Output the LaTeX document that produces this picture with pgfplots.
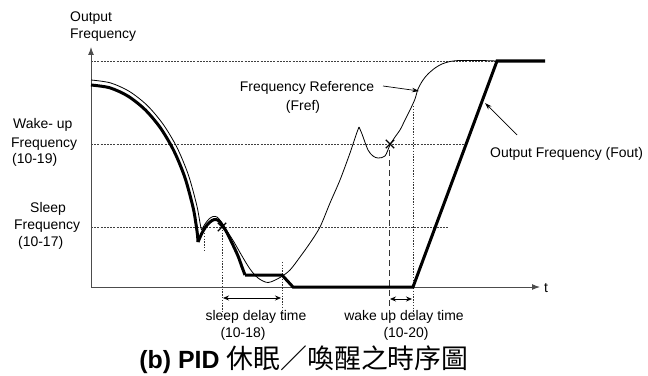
\documentclass[border=0pt]{standalone}
\usepackage{fontspec}
\setmainfont{Liberation Sans}
\newfontfamily\cjk{Noto Sans CJK TC}
\usepackage{pgfplots}
\pgfplotsset{compat=1.18}
\usetikzlibrary{arrows.meta}

\tikzset{
  guide/.style={black!75, line width=0.7bp, dash pattern=on 2bp off 1.2bp},
  dots/.style={black!80, line width=0.7bp, dash pattern=on 1.4bp off 1.4bp},
  lbl/.style={font=\fontsize{14}{16}\selectfont, inner sep=0pt, anchor=base west},
  lblc/.style={font=\fontsize{14}{16}\selectfont, inner sep=0pt, anchor=base},
}

\begin{document}
\begin{tikzpicture}
\begin{axis}[
    width=648bp, height=376bp, scale only axis,
    xmin=0, xmax=648, ymin=0, ymax=376,
    y dir=reverse,
    hide axis, clip=false,
]
\path (axis cs:0,0) rectangle (axis cs:648,376);

% guide levels
\addplot[guide] coordinates {(91,61) (497,61)};
\addplot[guide] coordinates {(91,144) (466,144)};
\addplot[guide] coordinates {(91,227) (448,227)};

% axes
\addplot[black!70, line width=1bp, -{Latex[length=8bp,width=6bp]}] coordinates {(91,287) (91,47)};
\addplot[black!70, line width=1bp, -{Latex[length=8bp,width=6bp]}] coordinates {(91,287) (540,287)};

% vertical markers
\addplot[dots] coordinates {(204,233) (204,252)};
\addplot[dots] coordinates {(222,227) (222,313)};
\addplot[dots] coordinates {(282,262) (282,313)};
\addplot[black!80, line width=0.8bp, dash pattern=on 6bp off 4bp] coordinates {(389,150) (389,314)};
\addplot[dots] coordinates {(413,106) (413,314)};

% delay arrows
\addplot[black, line width=0.8bp, {Stealth[length=6bp,width=5bp]}-{Stealth[length=6bp,width=5bp]}] coordinates {(223,298) (281,298)};
\addplot[black, line width=0.8bp, {Stealth[length=6bp,width=5bp]}-{Stealth[length=6bp,width=5bp]}] coordinates {(390,299) (412,299)};

% output frequency (thick)
\addplot[black, line width=3bp, smooth] coordinates {
 (91,85) (109.8,87.8) (128.1,96.2) (145.2,109.8) (160.7,128.3) (174.0,151.1)
 (184.9,177.5) (192.9,206.7) (195.7,222.1) (197.5,235) (198,242)};
\addplot[black, line width=3bp, smooth] coordinates {
 (198,242) (202,233) (207,225) (212,220.5) (216,219.5) (220,222) (226,231)
 (232,243) (238,256) (242,267) (245,275)};
\addplot[black, line width=3bp, line join=miter] coordinates {
 (245,275) (282,275) (293,287) (413,287) (497,61) (545,61)};

% frequency reference (thin)
\addplot[black, line width=0.8bp, smooth] coordinates {
 (91,80) (110.5,82.9) (129.5,91.5) (147.3,105.5) (163.3,124.5) (177.2,147.9)
 (188.4,175) (196.7,205) (200.2,224) (201.5,230)};
\addplot[black, line width=0.8bp, smooth] coordinates {
 (201.5,230) (205,224) (209,219) (213,216.5) (217,217) (221,221.5) (227,231)
 (234,242) (242,256) (250,269) (258,278) (268,282.5) (280,277.5) (290,270)
 (300,257) (310,243) (320,227) (330,203) (340,180) (350,153) (356,135) (359,127)};
\addplot[black, line width=0.8bp, smooth] coordinates {
 (359,127) (362,134) (368,150) (373,156) (378,158) (385,156) (390,145)
 (395,137) (400,130) (405,120) (410,110) (415,99) (418,89) (423,80)
 (428,74) (435,68) (442,64) (450,61.5) (460,60.5) (480,60.5) (497,61)};

% crossing marks
\addplot[only marks, mark=x, mark size=6bp, line width=1.1bp, black] coordinates {(222,227) (390,144)};

% annotation arrows
\addplot[black, line width=0.7bp, -{Stealth[length=7bp,width=4.5bp]}] coordinates {(383,86) (419,91)};
\addplot[black, line width=0.7bp, -{Stealth[length=7bp,width=4.5bp]}] coordinates {(517,135) (485,103)};

% labels
\node[lbl] at (axis cs:70,22) {Output};
\node[lbl] at (axis cs:70,38) {Frequency};
\node[lbl] at (axis cs:13,128) {Wake- up};
\node[lbl] at (axis cs:11,147) {Frequency};
\node[lbl] at (axis cs:12,163) {(10-19)};
\node[lbl] at (axis cs:30,212) {Sleep};
\node[lbl] at (axis cs:14,229) {Frequency};
\node[lbl] at (axis cs:18,246) {(10-17)};
\node[lblc] at (axis cs:307,91) {Frequency Reference};
\node[lblc] at (axis cs:303,110) {(Fref)};
\node[lbl] at (axis cs:490,157) {Output Frequency (Fout)};
\node[lbl] at (axis cs:544,292) {t};
\node[lblc] at (axis cs:256,320) {sleep delay time};
\node[lblc] at (axis cs:243,337) {(10-18)};
\node[lblc] at (axis cs:404,320) {wake up delay time};
\node[lblc] at (axis cs:406,337) {(10-20)};
\node[inner sep=0pt, anchor=base] at (axis cs:304,368)
  {{\fontsize{25}{27}\selectfont\bfseries (b) PID }{\cjk\fontsize{27}{29}\selectfont 休眠／喚醒之時序圖}};
\end{axis}
\end{tikzpicture}
\end{document}
